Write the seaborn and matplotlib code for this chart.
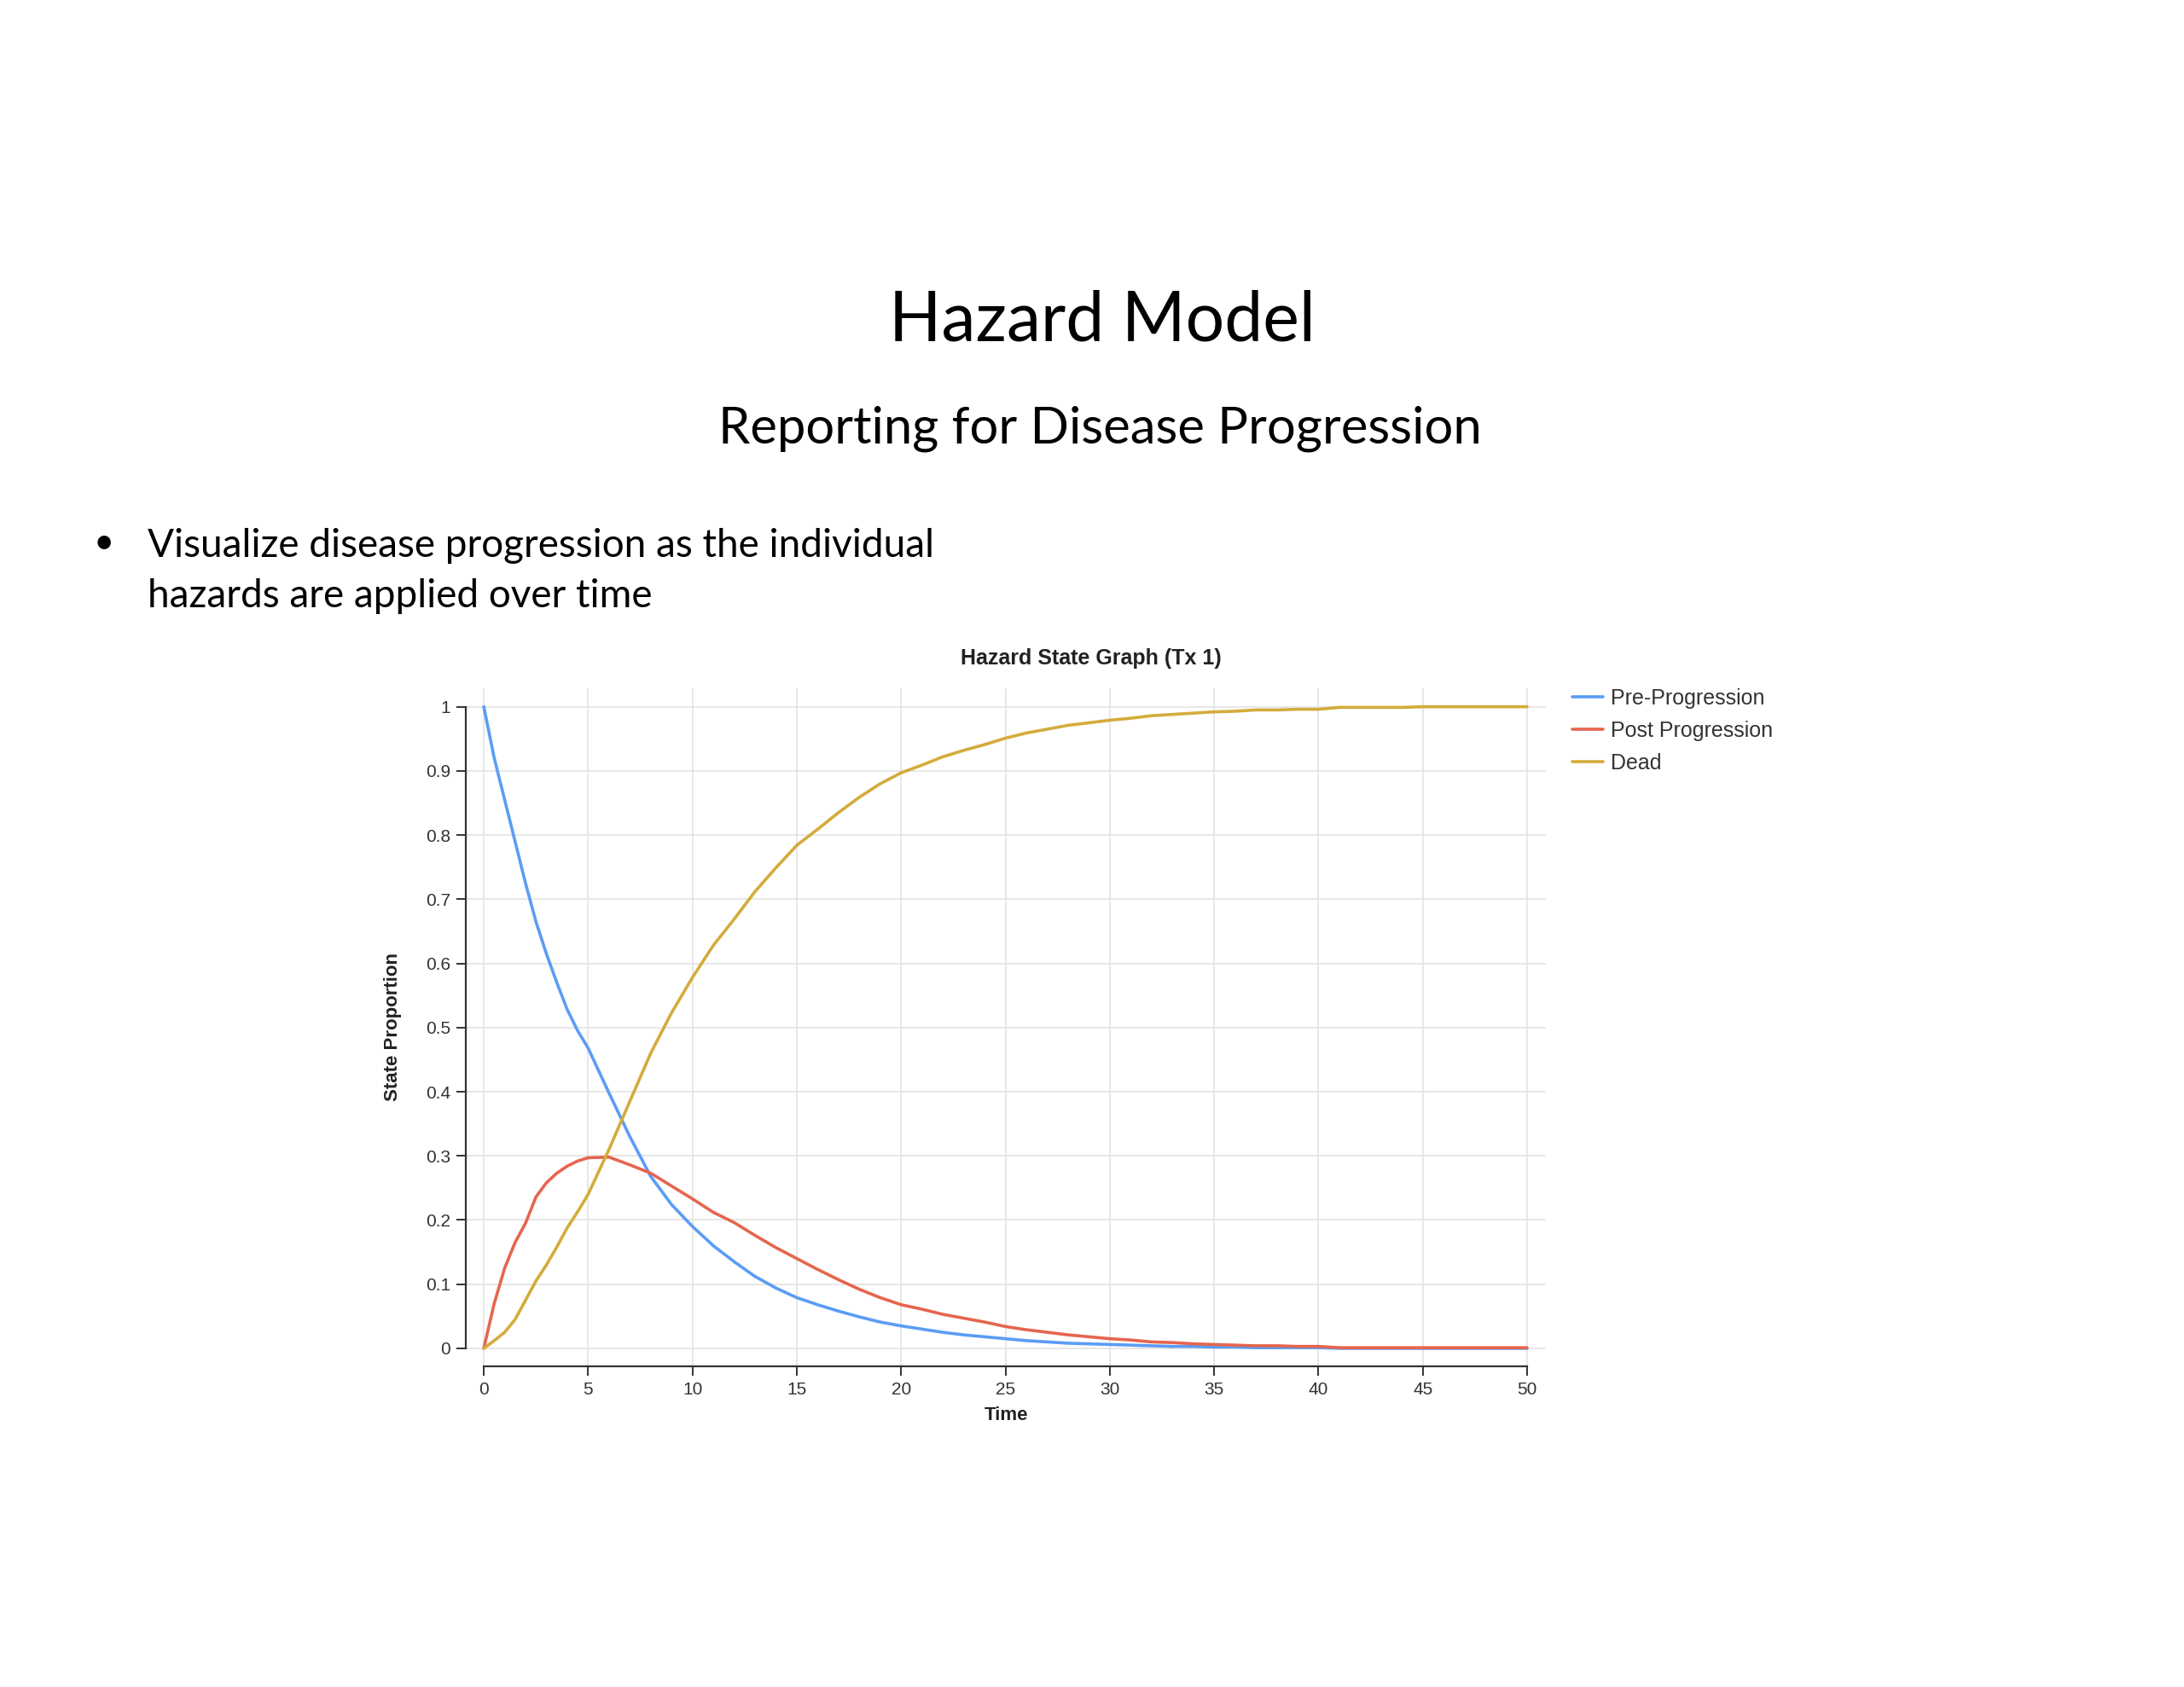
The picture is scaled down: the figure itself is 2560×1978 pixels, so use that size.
import numpy as np
import pandas as pd
import seaborn as sns
from matplotlib import pyplot as plt

# values
time = [0, 0.5, 1, 1.5, 2, 2.5, 3, 3.5, 4, 4.5, 5,
        6, 7, 8, 9, 10, 11, 12, 13, 14, 15, 16, 17, 18, 19, 20,
        21, 22, 23, 24, 25, 26, 27, 28, 29, 30, 31, 32, 33, 34, 35,
        36, 37, 38, 39, 40, 41, 42, 43, 44, 45, 46, 47, 48, 49, 50]

pre_progression = [1.0, 0.92, 0.855, 0.79, 0.725, 0.665, 0.615, 0.57, 0.528, 0.495, 0.468,
                   0.398, 0.33, 0.268, 0.224, 0.19, 0.16, 0.135, 0.112, 0.094, 0.079,
                   0.068, 0.058, 0.049, 0.041, 0.035,
                   0.030, 0.025, 0.021, 0.018, 0.015, 0.012, 0.010, 0.008, 0.007, 0.006,
                   0.005, 0.004, 0.003, 0.003, 0.002,
                   0.002, 0.001, 0.001, 0.001, 0.001, 0.0, 0.0, 0.0, 0.0, 0.0,
                   0.0, 0.0, 0.0, 0.0, 0.0]

post_progression = [0.0, 0.07, 0.125, 0.165, 0.195, 0.236, 0.258, 0.273, 0.284, 0.292, 0.297,
                    0.298, 0.286, 0.273, 0.253, 0.233, 0.212, 0.196, 0.176, 0.157, 0.14,
                    0.123, 0.107, 0.092, 0.079, 0.068,
                    0.061, 0.053, 0.047, 0.041, 0.034, 0.029, 0.025, 0.021, 0.018, 0.015,
                    0.013, 0.010, 0.009, 0.007, 0.006,
                    0.005, 0.004, 0.004, 0.003, 0.003, 0.001, 0.001, 0.001, 0.001, 0.001,
                    0.001, 0.001, 0.001, 0.001, 0.001]

dead = [0.0, 0.012, 0.025, 0.045, 0.075, 0.105, 0.13, 0.158, 0.188, 0.213, 0.24,
        0.31, 0.385, 0.46, 0.523, 0.578, 0.628, 0.669, 0.712, 0.749, 0.784,
        0.809, 0.835, 0.859, 0.88, 0.897,
        0.909, 0.922, 0.932, 0.941, 0.951, 0.959, 0.965, 0.971, 0.975, 0.979,
        0.982, 0.986, 0.988, 0.99, 0.992,
        0.993, 0.995, 0.995, 0.996, 0.996, 0.999, 0.999, 0.999, 0.999, 1.0,
        1.0, 1.0, 1.0, 1.0, 1.0]

states = ['Pre-Progression', 'Post Progression', 'Dead']
colors = {'Pre-Progression': '#5b9cf6', 'Post Progression': '#e6654f', 'Dead': '#d4ab3c'}

df = pd.DataFrame({
    'Time': time * 3,
    'Proportion': pre_progression + post_progression + dead,
    'State': [s for s in states for _ in time],
})

sns.set_theme(style="whitegrid")
plt.rcParams['font.family'] = ['Liberation Sans', 'DejaVu Sans']

fig = plt.figure(figsize=(25.6, 19.78), dpi=100)
ax = fig.add_axes([0.2133, 0.1901, 0.4945, 0.402])

sns.lineplot(data=df, x='Time', y='Proportion', hue='State', hue_order=states,
             palette=colors, linewidth=2.6, ax=ax)

ax.set_xlim(-0.86, 50.9)
ax.set_ylim(-0.028, 1.029)
ax.set_xticks(range(0, 51, 5))
yt = np.round(np.arange(0, 1.01, 0.1), 1)
ax.set_yticks(yt)
ax.set_yticklabels(['%g' % v for v in yt])

ax.grid(True, color='#e3e3e3', linewidth=1.2)
for side in ['top', 'right']:
    ax.spines[side].set_visible(False)
for side in ['left', 'bottom']:
    ax.spines[side].set_visible(True)
    ax.spines[side].set_color('#333333')
    ax.spines[side].set_linewidth(1.6)
ax.spines['left'].set_bounds(0, 1)
ax.spines['bottom'].set_bounds(0, 50)
ax.tick_params(direction='out', length=8, width=1.4, color='#333333',
               labelsize=15, labelcolor='#333333', left=True, bottom=True, pad=5)

ax.set_xlabel('Time', fontsize=16, fontweight='bold', color='#222222', labelpad=7)
ax.set_ylabel('State Proportion', fontsize=16, fontweight='bold', color='#222222', labelpad=20)

handles, labels = ax.get_legend_handles_labels()
leg = ax.legend(handles, labels, loc='upper left', bbox_to_anchor=(0.7199, 0.592),
                bbox_transform=fig.transFigure, frameon=False, fontsize=18,
                handlelength=1.45, handletextpad=0.35, labelspacing=0.55,
                borderpad=0, borderaxespad=0)
for t in leg.get_texts():
    t.set_color('#333333')

fig.text(1279 / 2560, 1 - 772 / 1978, 'Hazard State Graph (Tx 1)', ha='center', va='center',
         fontsize=18, fontweight='bold', color='#222222')

# slide text
slide_font = ['Lato', 'DejaVu Sans']
fig.text(1292 / 2560, 1 - 399 / 1978, 'Hazard Model', ha='center', va='baseline',
         fontsize=58, family=slide_font, color='black')
fig.text(1289 / 2560, 1 - 519 / 1978, 'Reporting for Disease Progression', ha='center',
         va='baseline', fontsize=43, family=slide_font, color='black')
fig.text(122 / 2560, 1 - 637 / 1978, '\u2022', ha='center', va='center',
         fontsize=30, family=slide_font, color='black')
fig.text(173 / 2560, 1 - 653 / 1978, 'Visualize disease progression as the individual',
         ha='left', va='baseline', fontsize=33, family=slide_font, color='black')
fig.text(173 / 2560, 1 - 712 / 1978, 'hazards are applied over time',
         ha='left', va='baseline', fontsize=33, family=slide_font, color='black')

fig.savefig('out.png', dpi=100, facecolor='white')
